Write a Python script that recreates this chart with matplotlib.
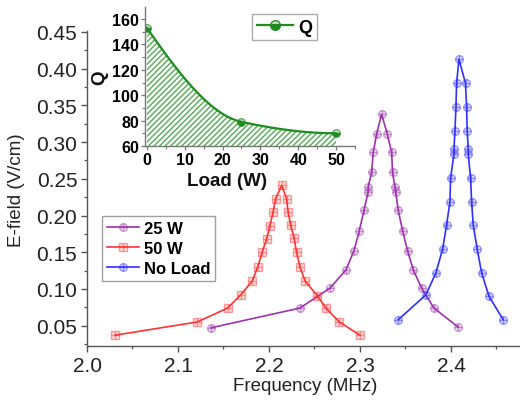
import numpy as np
import matplotlib
matplotlib.use("Agg")
import matplotlib.pyplot as plt
from matplotlib.legend_handler import HandlerTuple
from matplotlib.colors import to_rgba

# ---------------- data ----------------
freq_noload = [2.342, 2.3725, 2.3835, 2.3908, 2.3952, 2.3989, 2.3996, 2.4033, 2.4033,
               2.4044, 2.4055, 2.4062, 2.4088, 2.4160, 2.4172, 2.4179, 2.4190, 2.4190,
               2.4216, 2.4227, 2.4245, 2.4289, 2.4337, 2.4418, 2.4575]
e_noload = [0.058, 0.092, 0.122, 0.154, 0.187, 0.219, 0.251, 0.284, 0.291,
            0.315, 0.348, 0.380, 0.413, 0.380, 0.348, 0.315, 0.291, 0.284,
            0.251, 0.219, 0.187, 0.154, 0.122, 0.090, 0.058]

freq_25w = [2.136, 2.234, 2.267, 2.2846, 2.2934, 2.2992, 2.3044, 2.3090, 2.3090,
            2.3128, 2.3146, 2.3183, 2.3238, 2.3300, 2.3348, 2.3358, 2.3385, 2.3392,
            2.3421, 2.3469, 2.3523, 2.3586, 2.3678, 2.3813, 2.408]
e_25w = [0.047, 0.074, 0.101, 0.126, 0.152, 0.179, 0.207, 0.2325, 0.2385,
         0.259, 0.286, 0.311, 0.338, 0.311, 0.286, 0.259, 0.2385, 0.2325,
         0.207, 0.179, 0.152, 0.126, 0.101, 0.074, 0.048]

freq_50w = [2.0308, 2.1212, 2.1546, 2.169, 2.1817, 2.1876, 2.1925, 2.1974, 2.2010,
            2.2045, 2.2073, 2.2140, 2.2193, 2.2210, 2.2238, 2.2275, 2.2303, 2.2340,
            2.2396, 2.2530, 2.2626, 2.2773, 2.3000]
e_50w = [0.037, 0.055, 0.074, 0.092, 0.111, 0.130, 0.150, 0.168, 0.186,
         0.205, 0.223, 0.241, 0.223, 0.205, 0.187, 0.170, 0.150, 0.130,
         0.111, 0.091, 0.074, 0.055, 0.037]

load_w = [0, 25, 50]
q_vals = [153, 79, 70]

series_labels = ["25 W", "50 W", "No Load"]
x_ticks = [2.0, 2.1, 2.2, 2.3, 2.4]
y_ticks = [0.05, 0.10, 0.15, 0.20, 0.25, 0.30, 0.35, 0.40, 0.45]
inset_xticks = [0, 10, 20, 30, 40, 50]
inset_yticks = [60, 80, 100, 120, 140, 160]

# ---------------- style ----------------
FONT = "Liberation Sans"
plt.rcParams["font.family"] = [FONT, "DejaVu Sans"]

C_BLUE = "#3030ff"
C_RED = "#ff3434"
C_PURPLE = "#9a34a8"
C_GREEN = "#1e8c1e"

fig = plt.figure(figsize=(5.2, 4.06), dpi=100)
fig.patch.set_facecolor("white")

W, H = 520.0, 406.0
ax = fig.add_axes([87 / W, 1 - 347 / H, 432 / W, (347 - 31.5) / H])
ax.set_xlim(2.0, 2.4748)
ax.set_ylim(0.0223, 0.452)


def series(axh, x, y, color, marker):
    l1, = axh.plot(x, y, color=color, lw=1.2, marker=marker, ms=5.5,
                   mfc=to_rgba(color, 0.18), mec=to_rgba(color, 0.45), mew=1.0)
    l2, = axh.plot(x, y, ls="none", marker="+", ms=5.5,
                   mec=to_rgba(color, 0.45), mew=0.9)
    return (l1, l2)


h25 = series(ax, freq_25w, e_25w, C_PURPLE, "o")
h50 = series(ax, freq_50w, e_50w, C_RED, "s")
hnl = series(ax, freq_noload, e_noload, C_BLUE, "o")

for s in ["top", "right"]:
    ax.spines[s].set_visible(False)
for s in ["left", "bottom"]:
    ax.spines[s].set_color("#555555")
    ax.spines[s].set_linewidth(1.0)

ax.set_xticks(x_ticks)
ax.set_xticklabels([f"{v:.1f}" for v in x_ticks])
ax.set_xticks([2.05, 2.15, 2.25, 2.35, 2.45], minor=True)
ax.set_yticks(y_ticks)
ax.set_yticklabels([f"{v:.2f}" for v in y_ticks])
ax.set_yticks(np.arange(0.025, 0.451, 0.05), minor=True)
ax.tick_params(axis="both", which="major", direction="out", length=4, width=1.0,
               color="#555555", labelsize=15, labelcolor="#222222", pad=3)
ax.tick_params(axis="both", which="minor", direction="out", length=2.5, width=0.9,
               color="#555555")

fig.text(305 / W, 1 - 387 / H, "Frequency (MHz)", ha="center", va="center",
         fontsize=13.5, color="#222222")
fig.text(17 / W, 1 - 190 / H, "E-field (V/cm)", ha="center", va="center",
         rotation=90, fontsize=13.5, color="#222222")

leg = ax.legend([h25, h50, hnl], series_labels,
                handler_map={tuple: HandlerTuple(ndivide=1, pad=0)},
                loc="upper left", bbox_to_anchor=(102 / W, 1 - 217 / H),
                bbox_transform=fig.transFigure, borderaxespad=0,
                prop={"family": FONT, "weight": "bold", "size": 12},
                frameon=True, fancybox=False, edgecolor="#888888",
                handlelength=1.9, handletextpad=0.3, labelspacing=0.3,
                borderpad=0.3)
leg.get_frame().set_linewidth(1.0)

# ---------------- inset ----------------
axi = fig.add_axes([145 / W, 1 - 147 / H, 210 / W, (147 - 8) / H])
axi.set_xlim(-0.5, 55)
axi.set_ylim(60, 169.5)


def pchip(x, y, xs):
    x = np.asarray(x, float)
    y = np.asarray(y, float)
    h = np.diff(x)
    d = np.diff(y) / h
    n = len(x)
    m = np.zeros(n)
    for k in range(1, n - 1):
        if d[k - 1] * d[k] > 0:
            w1 = 2 * h[k] + h[k - 1]
            w2 = h[k] + 2 * h[k - 1]
            m[k] = (w1 + w2) / (w1 / d[k - 1] + w2 / d[k])
    m0 = ((2 * h[0] + h[1]) * d[0] - h[0] * d[1]) / (h[0] + h[1])
    m[0] = m0 if np.sign(m0) == np.sign(d[0]) else 0.0
    mn = ((2 * h[-1] + h[-2]) * d[-1] - h[-1] * d[-2]) / (h[-1] + h[-2])
    m[-1] = mn if np.sign(mn) == np.sign(d[-1]) else 0.0
    out = np.empty_like(xs, dtype=float)
    for i, xv in enumerate(xs):
        k = min(np.searchsorted(x, xv, side="right") - 1, n - 2)
        k = max(k, 0)
        t = (xv - x[k]) / h[k]
        h00 = 2 * t**3 - 3 * t**2 + 1
        h10 = t**3 - 2 * t**2 + t
        h01 = -2 * t**3 + 3 * t**2
        h11 = t**3 - t**2
        out[i] = h00 * y[k] + h10 * h[k] * m[k] + h01 * y[k + 1] + h11 * h[k] * m[k + 1]
    return out


xs = np.linspace(load_w[0], load_w[-1], 200)
ys = pchip(load_w, q_vals, xs)
axi.fill_between(xs, 60, ys, facecolor="none", edgecolor=to_rgba(C_GREEN, 0.75),
                 hatch="//////", linewidth=0)
axi.plot(xs, ys, color=C_GREEN, lw=1.6)
axi.plot(load_w, q_vals, ls="none", marker="o", ms=5.5, fillstyle="bottom",
         mfc=C_GREEN, mfcalt=to_rgba(C_GREEN, 0.25), mec=to_rgba(C_GREEN, 0.7), mew=0.9)
hq, = axi.plot([], [], color=C_GREEN, lw=1.6, marker="o", ms=7, fillstyle="bottom",
               mfc=C_GREEN, mfcalt=to_rgba(C_GREEN, 0.25), mec=C_GREEN, mew=0.9)

for s in ["top", "right"]:
    axi.spines[s].set_visible(False)
for s in ["left", "bottom"]:
    axi.spines[s].set_color("#777777")
    axi.spines[s].set_linewidth(1.0)

axi.set_xticks(inset_xticks)
axi.set_xticks([5, 15, 25, 35, 45, 55], minor=True)
axi.set_yticks(inset_yticks)
axi.set_yticks([70, 90, 110, 130, 150], minor=True)
axi.tick_params(axis="both", which="major", direction="out", length=3, width=0.9,
                color="#777777", labelsize=11.5, pad=1.5)
axi.tick_params(axis="both", which="minor", direction="out", length=2, width=0.8,
                color="#777777")
for lab in axi.get_xticklabels() + axi.get_yticklabels():
    lab.set_fontweight("bold")

fig.text(227 / W, 1 - 182 / H, "Load (W)", ha="center", va="center",
         fontsize=13.5, fontweight="bold", color="#111111")
fig.text(100 / W, 1 - 78 / H, "Q", ha="center", va="center", rotation=90,
         fontsize=13.5, fontweight="bold", color="#111111")

legi = axi.legend([hq], ["Q"], loc="upper left", bbox_to_anchor=(252 / W, 1 - 15 / H),
                  bbox_transform=fig.transFigure, borderaxespad=0,
                  prop={"family": FONT, "weight": "bold", "size": 13},
                  frameon=True, fancybox=False, edgecolor="#999999",
                  handlelength=2.0, handletextpad=0.3, borderpad=0.25)
legi.get_frame().set_linewidth(1.0)

fig.savefig("out.png", dpi=100, facecolor="white")
